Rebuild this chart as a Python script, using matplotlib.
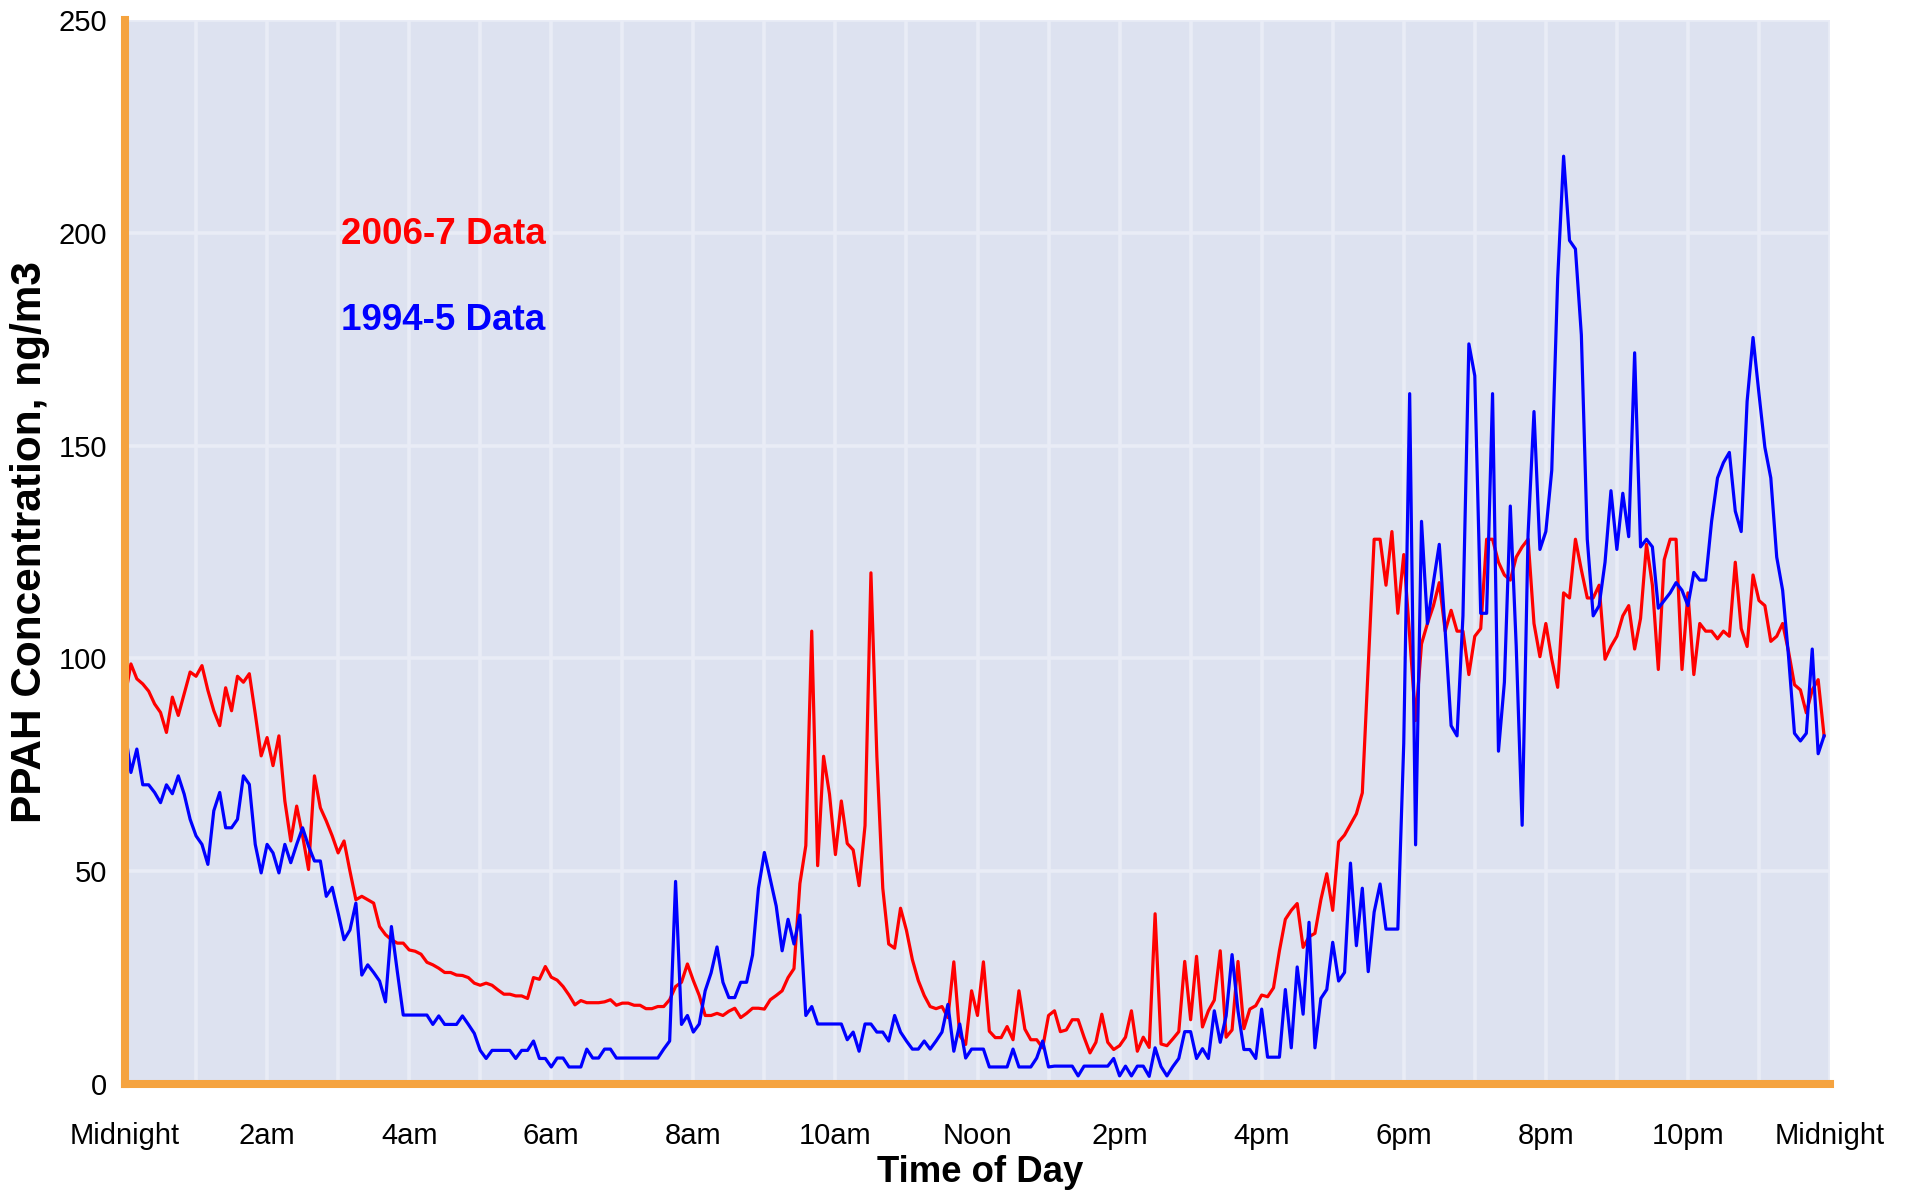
import numpy as np
import matplotlib
matplotlib.use("Agg")
import matplotlib.pyplot as plt

plt.rcParams['font.family'] = ['Liberation Sans', 'DejaVu Sans']

# 5-minute samples over one day (hours)
hours = np.arange(0, 1440, 5) / 60.0

# 2006-7 data, ng/m3
ppah_2006 = [
    91, 98.7, 95.2, 94.0, 92.3, 89.3, 87.3, 82.6, 90.9, 86.6, 91.7, 96.8,
    95.8, 98.3, 92.5, 87.7, 84.2, 93.1, 87.7, 95.8, 94.4, 96.4, 87, 77.1,
    81.4, 74.8, 81.8, 66.5, 57.1, 65.3, 58.3, 50.4, 72.4, 64.9, 61.8, 58.3,
    54.3, 57.1, 50, 43.3, 44.1, 43.3, 42.5, 37, 35.1, 33.9, 33.1, 33.1,
    31.5, 31.2, 30.5, 28.6, 28.0, 27.2, 26.2, 26.2, 25.6, 25.5, 25, 23.7,
    23.2, 23.7, 23.2, 22.1, 21.1, 21.1, 20.7, 20.7, 20.1, 25, 24.6, 27.6,
    25.1, 24.4, 22.9, 20.9, 18.6, 19.6, 19.1, 19.1, 19.1, 19.3, 19.8, 18.5,
    19, 19, 18.5, 18.5, 17.7, 17.7, 18.2, 18.2, 19.8, 22.9, 23.9, 28.2,
    24.3, 20.8, 16.1, 16.1, 16.6, 16.1, 17.1, 17.8, 15.6, 16.6, 17.8, 17.8,
    17.6, 19.8, 20.8, 21.9, 25, 27.1, 47.1, 56, 106.4, 51.3, 77, 68.1,
    53.9, 66.5, 56.5, 55, 46.6, 60.7, 120.1, 77, 46, 32.9, 31.9, 41.3,
    36.1, 29.2, 24.3, 20.8, 18.2, 17.7, 18.2, 15.6, 28.7, 11.4, 9.3, 21.9,
    16.1, 28.7, 12.4, 10.9, 10.9, 13.5, 10.4, 21.9, 12.9, 10.4, 10.4, 8.5,
    16.1, 17.2, 12.3, 12.7, 15.1, 15.1, 11.0, 7.3, 9.8, 16.4, 9.8, 8.1,
    9.0, 11.0, 17.2, 7.7, 11, 8.6, 40, 9.4, 9.0, 10.6, 12.3, 28.8,
    15.1, 30.0, 13.4, 17.2, 19.7, 31.3, 11, 12.7, 28.8, 13, 17.6, 18.4,
    20.9, 20.5, 22.6, 31.3, 38.7, 40.8, 42.4, 32.1, 34.6, 35.4, 43.3, 49.4,
    40.8, 56.9, 58.5, 61, 63.5, 68.4, 98, 128, 128, 117.2, 129.8, 110.6,
    124.4, 105.2, 85.4, 103.4, 108.2, 112.3, 117.8, 106.4, 111.3, 106.4, 106.4, 96.2,
    105.2, 107, 128, 128, 122.6, 119.6, 118.4, 123.8, 126.2, 128, 108.2, 100.4,
    108.2, 99.8, 93.2, 115.4, 114.2, 128, 120.8, 114.2, 114.2, 117.2, 99.8, 102.8,
    105.2, 110, 112.4, 102.2, 109.4, 126.8, 117.2, 97.4, 123.2, 128, 128, 97.4,
    115.4, 96.2, 108.2, 106.4, 106.4, 104.6, 106.4, 105.2, 122.6, 107, 102.8, 119.6,
    113.6, 112.4, 104, 105.2, 108.2, 101.6, 93.8, 92.6, 87.2, 92.6, 95, 81.8,
]

# 1994-5 data, ng/m3
ppah_1994 = [
    83, 73.2, 78.7, 70.3, 70.3, 68.5, 66.1, 70.3, 68.2, 72.4, 68.1, 62.2,
    58.3, 56.3, 51.6, 64.2, 68.5, 60.2, 60.2, 62.2, 72.4, 70.4, 56.3, 49.6,
    56.3, 54.3, 49.6, 56.3, 52, 56.3, 60.2, 55.9, 52.4, 52.4, 44.1, 46.2,
    40.2, 33.9, 36.2, 42.5, 25.6, 28, 26.2, 24.2, 19.3, 37, 26.4, 16.2,
    16.2, 16.2, 16.2, 16.2, 14, 16, 14, 14, 14, 16, 14, 11.9,
    7.9, 6, 7.9, 7.9, 7.9, 7.9, 6, 7.9, 7.9, 10.1, 6, 6,
    4, 6.1, 6.1, 4, 4, 4, 8.2, 6.1, 6.1, 8.2, 8.2, 6.1,
    6.1, 6.1, 6.1, 6.1, 6.1, 6.1, 6.1, 8.2, 10.1, 47.6, 14, 16.1,
    12.2, 14.1, 21.9, 26.1, 32.2, 23.9, 20.3, 20.3, 23.9, 23.9, 30.3, 46,
    54.4, 48.1, 41.8, 31.3, 38.7, 32.9, 39.7, 16.1, 18.2, 14.1, 14.1, 14.1,
    14.1, 14.1, 10.4, 12.2, 7.7, 14.1, 14.1, 12.2, 12.2, 10.1, 16.1, 12.2,
    10.1, 8.2, 8.2, 10.1, 8.2, 10.1, 12.2, 18.7, 7.7, 14.1, 6.1, 8.2,
    8.2, 8.2, 4, 4, 4, 4, 8.2, 4, 4, 4, 6.1, 10.1,
    4, 4.2, 4.2, 4.2, 4.2, 1.9, 4.2, 4.2, 4.2, 4.2, 4.2, 6.0,
    1.9, 4.2, 1.9, 4.2, 4.2, 1.8, 8.5, 4.1, 1.9, 4.1, 6.0, 12.3,
    12.3, 6.0, 8.3, 6.0, 17.2, 9.8, 16, 30.4, 17.2, 8.1, 8.1, 6.0,
    17.6, 6.3, 6.3, 6.3, 22.2, 8.5, 27.5, 16.4, 38, 8.5, 20.1, 22.2,
    33.3, 24.2, 26.2, 51.9, 32.5, 46, 26.4, 40.4, 47, 36.4, 36.4, 36.4,
    80, 162.2, 56.2, 132.2, 108.2, 117.8, 126.8, 106.4, 84.2, 81.8, 110, 173.9,
    166.4, 110.6, 110.6, 162.2, 78.2, 94.4, 135.8, 102.8, 60.8, 129.2, 158, 125.6,
    129.8, 144.2, 189.2, 218, 198.2, 196.2, 176, 128, 110, 112.4, 122.6, 139.4,
    125.6, 138.8, 128.6, 171.8, 126.2, 128, 126.2, 111.8, 113.6, 115.4, 117.8, 116,
    112.4, 120.2, 118.4, 118.4, 132.2, 142.4, 146, 148.4, 134.6, 129.8, 160.4, 175.4,
    162.2, 149.6, 142.4, 123.8, 116, 100.4, 82.4, 80.6, 82.4, 102.2, 77.6, 81.8,
]

tick_hours = list(range(0, 25, 2))
tick_labels = ["Midnight", "2am", "4am", "6am", "8am", "10am", "Noon",
               "2pm", "4pm", "6pm", "8pm", "10pm", "Midnight"]
y_ticks = [0, 50, 100, 150, 200, 250]

W, H = 1910, 1192
fig = plt.figure(figsize=(W / 100, H / 100), dpi=100, facecolor="white")
ax = fig.add_axes([125 / W, 1 - 1084 / H, (1830 - 125) / W, (1084 - 20) / H])
ax.set_facecolor("#DDE2F0")

ax.plot(hours, ppah_2006, color="#FF0000", lw=2.3, zorder=3)
ax.plot(hours, ppah_1994, color="#0000FF", lw=2.3, zorder=4)

ax.set_xlim(0, 24)
ax.set_ylim(0, 250)
ax.set_xticks(tick_hours)
ax.set_xticklabels(tick_labels)
ax.set_xticks(range(0, 25), minor=True)
ax.set_yticks(y_ticks)

ax.grid(True, which="both", axis="x", color="#E9ECF6", lw=2.6, zorder=0)
ax.grid(True, which="major", axis="y", color="#E9ECF6", lw=2.6, zorder=0)
ax.set_axisbelow(True)

ax.tick_params(axis="both", which="both", length=0, labelsize=21, colors="black")
ax.tick_params(axis="x", pad=27)
ax.tick_params(axis="y", pad=13)

for side in ["top", "right"]:
    ax.spines[side].set_visible(False)
for side in ["left", "bottom"]:
    ax.spines[side].set_color("#F5A33F")
    ax.spines[side].set_linewidth(5.8)
    ax.spines[side].set_zorder(5)

ax.text(3.04, 199.5, "2006-7 Data", color="#FF0000", fontsize=26.5,
        fontweight="bold", va="center", ha="left")
ax.text(3.04, 179.5, "1994-5 Data", color="#0000FF", fontsize=26.5,
        fontweight="bold", va="center", ha="left")

fig.text(30 / W, 1 - 542 / H, "PPAH Concentration, ng/m3", rotation=90,
         fontsize=30.5, fontweight="bold", ha="center", va="center")
fig.text(980 / W, 1 - 1172 / H, "Time of Day", fontsize=26.3,
         fontweight="bold", ha="center", va="center")

fig.savefig("out.png", dpi=100)
